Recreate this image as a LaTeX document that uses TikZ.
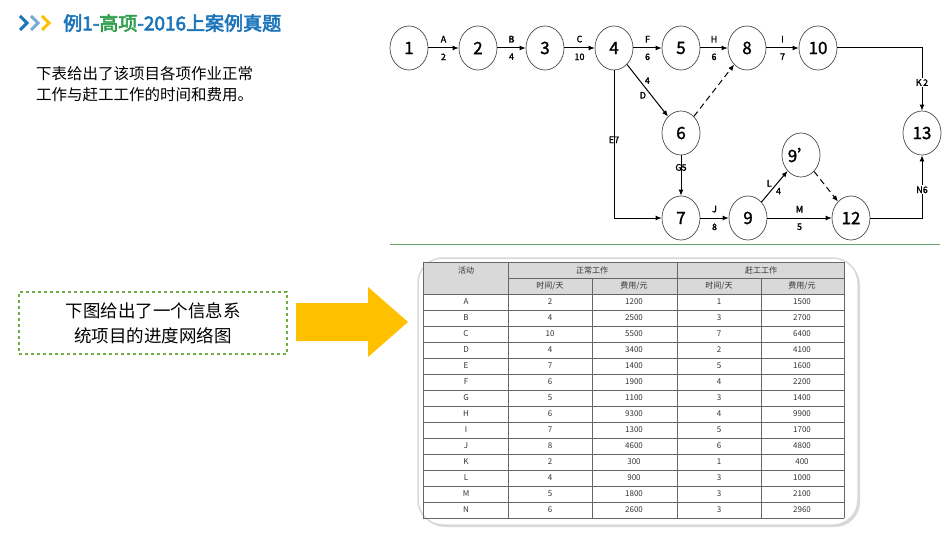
\documentclass[tikz,border=0pt]{standalone}
\usepackage{fontspec}
\setmainfont{Noto Sans CJK SC}
\newfontfamily\boldcjk[FakeBold=3]{Noto Sans CJK SC}
\newfontfamily\semicjk[FakeBold=1.5]{Noto Sans CJK SC}
\usetikzlibrary{shapes.geometric,arrows.meta,shadows}
\definecolor{tblue}{HTML}{1A75BB}
\definecolor{tgreen}{HTML}{2E9E4B}
\definecolor{dgreen}{HTML}{70AD47}
\definecolor{arrowy}{HTML}{FFC000}
\definecolor{hgray}{HTML}{D9D9D9}
\begin{document}
\begin{tikzpicture}[x=1pt,y=-1pt,
  ev/.style={ellipse,draw=black!70,line width=0.7pt,minimum width=38pt,minimum height=44pt,inner sep=0pt,font=\fontsize{17}{17}\selectfont\semicjk},
  act/.style={-{Latex[length=6pt,width=5pt]},line width=1pt},
  dum/.style={act,dash pattern=on 6pt off 4pt},
  lab/.style={font=\fontsize{9}{9}\selectfont\semicjk,inner sep=1pt},
  up/.style={lab,above=4pt},
  dn/.style={lab,below=4pt},
  cell/.style={font=\fontsize{8}{8}\selectfont,text=black!80}]
\useasboundingbox (0,0) rectangle (950,535);
\fill[white] (0,0) rectangle (950,535);
% title
\foreach \x/\c in {20/tblue,31/tblue!60,42/arrowy}
  \draw[\c,line width=3pt] (\x,16)--(\x+7,23)--(\x,30);
\node[anchor=west,inner sep=0pt,font=\fontsize{19}{19}\selectfont\boldcjk] (title) at (63,23)
  {\textcolor{tblue}{例1-}\textcolor{tgreen}{高项}\textcolor{tblue}{-2016上案例真题}};
\node[anchor=north west,align=left,inner sep=0pt,font=\fontsize{15.5}{21}\selectfont] (intro) at (36,66)
  {下表给出了该项目各项作业正常\\工作与赶工工作的时间和费用。};
% network
\node[ev] (n1) at (409,48) {1};
\node[ev] (n2) at (478,48) {2};
\node[ev] (n3) at (545,48) {3};
\node[ev] (n4) at (614,48) {4};
\node[ev] (n5) at (681,48) {5};
\node[ev] (n8) at (747,48) {8};
\node[ev] (n10) at (818,48) {10};
\node[ev] (n6) at (681,133) {6};
\node[ev] (n7) at (681,218) {7};
\node[ev] (n9) at (748,218) {9};
\node[ev] (n9p) at (801,155) {9’};
\node[ev] (n12) at (851,218) {12};
\node[ev] (n13) at (922,133) {13};
\draw[act] (n1)--node[up]{A}node[dn]{2}(n2);
\draw[act] (n2)--node[up]{B}node[dn]{4}(n3);
\draw[act] (n3)--node[up]{C}node[dn]{10}(n4);
\draw[act] (n4)--node[up]{F}node[dn]{6}(n5);
\draw[act] (n5)--node[up]{H}node[dn]{6}(n8);
\draw[act] (n8)--node[up]{I}node[dn]{7}(n10);
\draw[act] (n4)--node[lab,pos=0.4,above right=0pt]{4}node[lab,pos=0.5,below left=0pt]{D}(n6);
\draw[dum] (n6)--(n8);
\draw[act] (n6)--node[lab,pos=0.3]{G5}(n7);
\coordinate (c47) at (614,218);
\draw[act] (n4.south)--node[lab,pos=0.47]{E7}(c47)--(n7);
\draw[act] (n7)--node[up]{J}node[dn]{8}(n9);
\draw[act] (n9)--node[up]{M}node[dn]{5}(n12);
\draw[act] (n9)--node[lab,pos=0.45,above left=0pt]{L}node[lab,pos=0.5,below right=0pt]{4}(n9p);
\draw[dum] (n9p)--(n12);
\coordinate (c1013) at (922,48);
\coordinate (c1213) at (922,218);
\draw[act] (n10)--(c1013)--node[lab,pos=0.55,fill=white]{K\,2}(n13);
\draw[act] (n12)--(c1213)--node[lab,pos=0.45,fill=white]{N6}(n13);
\draw[black!60!green!60,line width=0.6pt] (390,244)--(940,244);
% callout
\node[draw=dgreen,dashed,line width=1.5pt,minimum width=268pt,minimum height=62pt,align=center,
  font=\fontsize{17.5}{25}\selectfont] (call) at (153,323) {下图给出了一个信息系\\统项目的进度网络图};
\fill[arrowy] (296,303)--(368,303)--(368,287)--(408,322)--(368,357)--(368,341)--(296,341)--cycle;
% table frame
\fill[white,draw=black!15,line width=1.5pt,drop shadow={shadow xshift=2pt,shadow yshift=-2pt,opacity=0.3}] (418,258) [rounded corners=25pt] rectangle (858,525);
\fill[hgray] (423,262) rectangle (844,294);
\foreach \y in {262,294,310,326,342,358,374,390,406,422,438,454,470,486,502,518}
  \draw[black!60,line width=0.4pt] (423,\y)--(844,\y);
\draw[black!60,line width=0.4pt] (508,278)--(844,278);
\foreach \x in {423,844}
  \draw[black!60,line width=0.4pt] (\x,262)--(\x,518);
\foreach \x in {508,677}
  \draw[black!60,line width=0.4pt] (\x,262)--(\x,518);
\foreach \x in {592,761}
  \draw[black!60,line width=0.4pt] (\x,278)--(\x,518);
\node[cell] (h0) at (466,270) {活动};
\node[cell] (h1) at (592,270) {正常工作};
\node[cell] (h2) at (761,270) {赶工工作};
\node[cell] (h3) at (550,286) {时间/天};
\node[cell] (h4) at (634,286) {费用/元};
\node[cell] (h5) at (719,286) {时间/天};
\node[cell] (h6) at (802,286) {费用/元};
\foreach \a/\b/\c/\d/\e [count=\i] in {A/2/1200/1/1500,B/4/2500/3/2700,C/10/5500/7/6400,D/4/3400/2/4100,E/7/1400/5/1600,F/6/1900/4/2200,G/5/1100/3/1400,H/6/9300/4/9900,I/7/1300/5/1700,J/8/4600/6/4800,K/2/300/1/400,L/4/900/3/1000,M/5/1800/3/2100,N/6/2600/3/2960}{
  \pgfmathsetmacro\yy{294+16*\i-8}
  \node[cell] (r\i a) at (466,\yy) {\a};
  \node[cell] (r\i b) at (550,\yy) {\b};
  \node[cell] (r\i c) at (634,\yy) {\c};
  \node[cell] (r\i d) at (719,\yy) {\d};
  \node[cell] (r\i e) at (802,\yy) {\e};
}
\end{tikzpicture}
\end{document}
